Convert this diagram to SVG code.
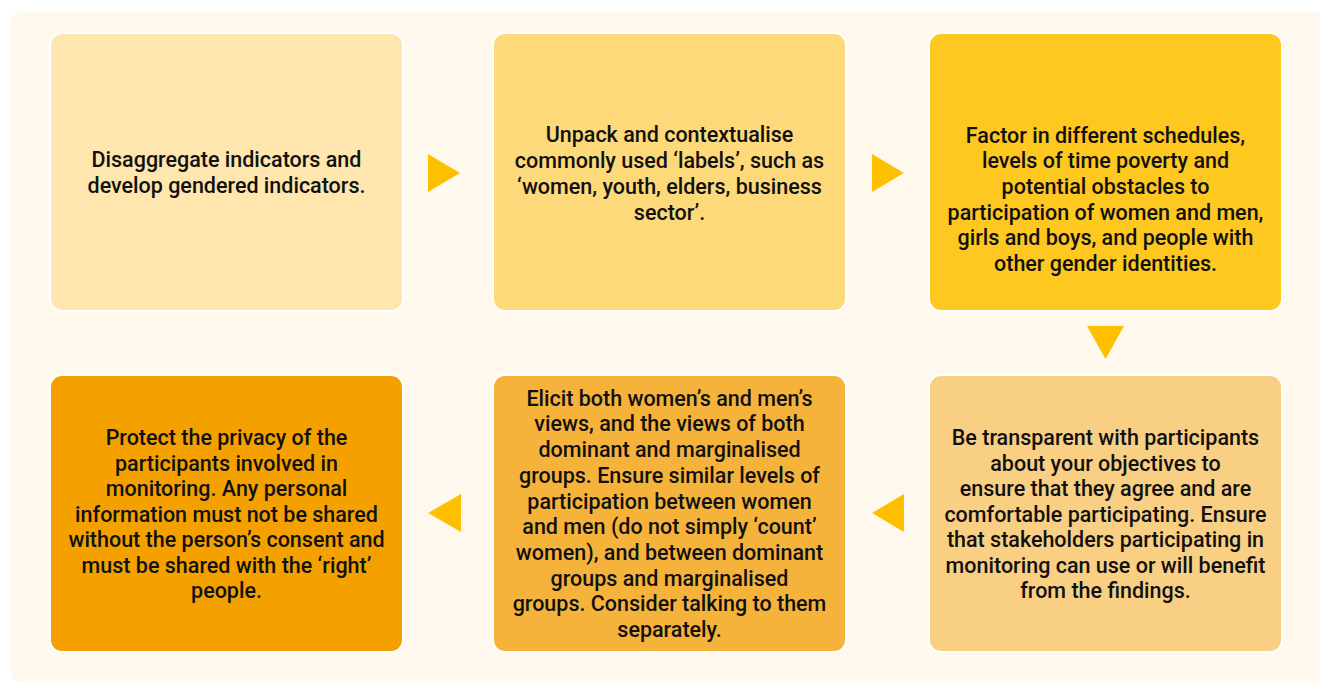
<svg xmlns="http://www.w3.org/2000/svg" width="1320" height="684" viewBox="0 0 1320 684">
  <style>
    .card { stroke: #ffffff; stroke-width: 2; }
    .label { font-family: Roboto, "Liberation Sans", sans-serif; font-weight: 500; font-size: 21.5px; fill: #111111; text-anchor: middle; }
    .arrow { fill: #fdc000; }
  </style>
  <!-- backdrop panel -->
  <rect x="10" y="12" width="1320" height="671" rx="12" fill="#fff8ec"/>

  <g id="step1">
    <rect class="card" x="50" y="33" width="353" height="278" rx="12" fill="#fee6ae"/>
    <text class="label" x="226.5" y="167">Disaggregate indicators and</text>
    <text class="label" x="226.5" y="193">develop gendered indicators.</text>
  </g>

  <g id="step2">
    <rect class="card" x="493" y="33" width="353" height="278" rx="12" fill="#fed97a"/>
    <text class="label" x="669.5" y="141.5">Unpack and contextualise</text>
    <text class="label" x="669.5" y="167.5">commonly used ‘labels’, such as</text>
    <text class="label" x="669.5" y="193.5">‘women, youth, elders, business</text>
    <text class="label" x="669.5" y="219.5">sector’.</text>
  </g>

  <g id="step3">
    <rect class="card" x="929" y="33" width="353" height="278" rx="12" fill="#fec820"/>
    <text class="label" x="1105.5" y="142.5">Factor in different schedules,</text>
    <text class="label" x="1105.5" y="168">levels of time poverty and</text>
    <text class="label" x="1105.5" y="193.5">potential obstacles to</text>
    <text class="label" x="1105.5" y="219.5">participation of women and men,</text>
    <text class="label" x="1105.5" y="245">girls and boys, and people with</text>
    <text class="label" x="1105.5" y="270.5">other gender identities.</text>
  </g>

  <g id="step4">
    <rect class="card" x="929" y="375" width="353" height="277" rx="12" fill="#f9cf83"/>
    <text class="label" x="1105.5" y="444.5">Be transparent with participants</text>
    <text class="label" x="1105.5" y="470.5">about your objectives to</text>
    <text class="label" x="1105.5" y="496">ensure that they agree and are</text>
    <text class="label" x="1105.5" y="521.5">comfortable participating. Ensure</text>
    <text class="label" x="1105.5" y="547">that stakeholders participating in</text>
    <text class="label" x="1105.5" y="572.5">monitoring can use or will benefit</text>
    <text class="label" x="1105.5" y="598">from the findings.</text>
  </g>

  <g id="step5">
    <rect class="card" x="493" y="375" width="353" height="277" rx="12" fill="#f6b33c"/>
    <text class="label" x="669.5" y="405.5">Elicit both women’s and men’s</text>
    <text class="label" x="669.5" y="431">views, and the views of both</text>
    <text class="label" x="669.5" y="457">dominant and marginalised</text>
    <text class="label" x="669.5" y="482.5">groups. Ensure similar levels of</text>
    <text class="label" x="669.5" y="508.5">participation between women</text>
    <text class="label" x="669.5" y="534">and men (do not simply ‘count’</text>
    <text class="label" x="669.5" y="559.5">women), and between dominant</text>
    <text class="label" x="669.5" y="585.5">groups and marginalised</text>
    <text class="label" x="669.5" y="611">groups. Consider talking to them</text>
    <text class="label" x="669.5" y="636.5">separately.</text>
  </g>

  <g id="step6">
    <rect class="card" x="50" y="375" width="353" height="277" rx="12" fill="#f4a100"/>
    <text class="label" x="226.5" y="444.5">Protect the privacy of the</text>
    <text class="label" x="226.5" y="470.5">participants involved in</text>
    <text class="label" x="226.5" y="496">monitoring. Any personal</text>
    <text class="label" x="226.5" y="521.5">information must not be shared</text>
    <text class="label" x="226.5" y="547">without the person’s consent and</text>
    <text class="label" x="226.5" y="572.5">must be shared with the ‘right’</text>
    <text class="label" x="226.5" y="598">people.</text>
  </g>

  <g id="connectors">
    <polygon class="arrow" points="428,154 460,173 428,192"/>
    <polygon class="arrow" points="872,154 904,173 872,192"/>
    <polygon class="arrow" points="1087,326 1124,326 1105.5,359"/>
    <polygon class="arrow" points="904,494 904,532 872,513"/>
    <polygon class="arrow" points="461,494 461,532 428,513"/>
  </g>
</svg>
